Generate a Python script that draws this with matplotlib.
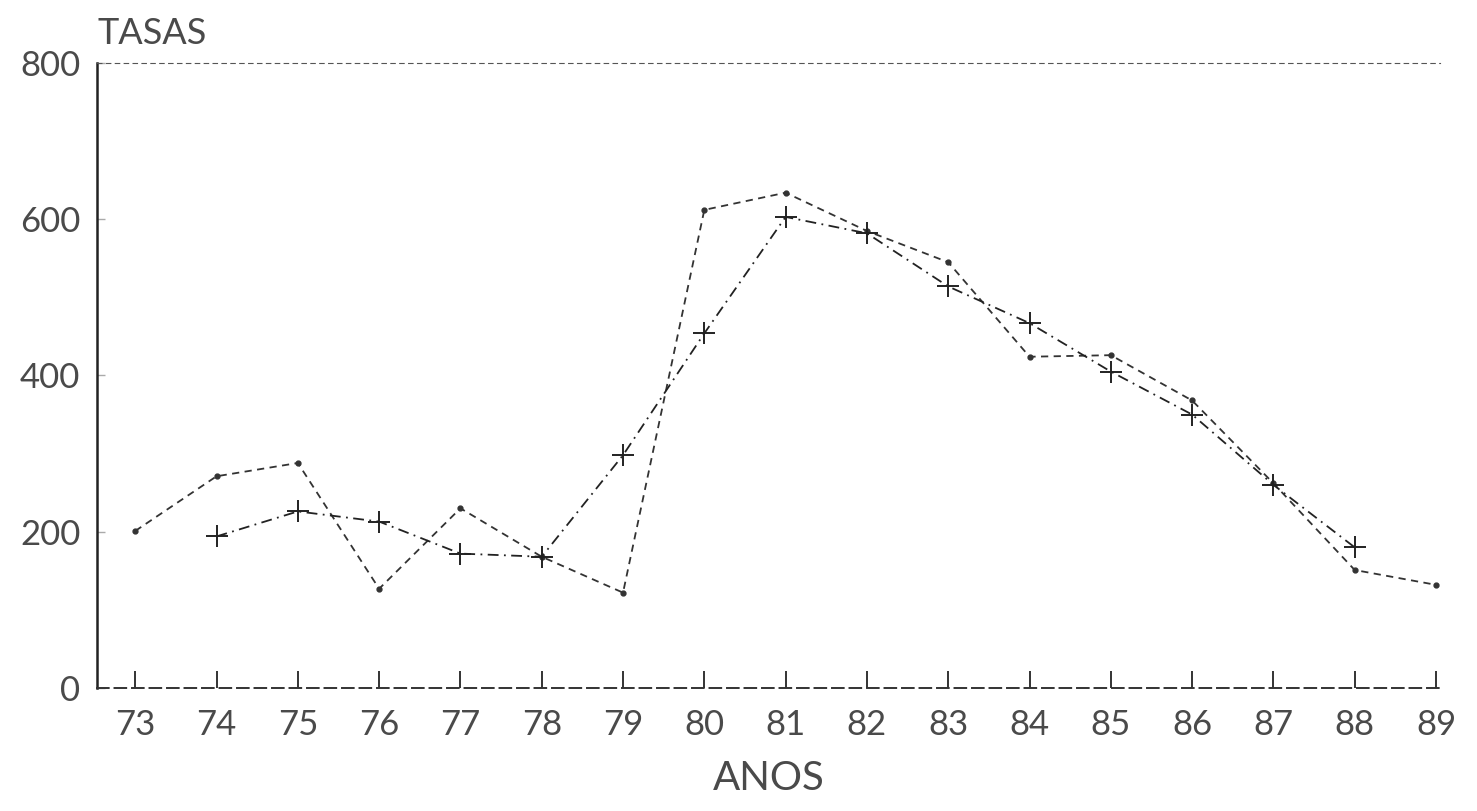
import matplotlib.pyplot as plt
import numpy as np

plt.rcParams['font.family'] = ['Lato', 'DejaVu Sans']

# Datos
anos = np.arange(73, 90)
tasa_puntos = [201, 271, 288, 127, 230, 168, 122, 612, 634, 585, 545, 424, 426, 368, 262, 151, 132]
anos_cruces = np.arange(74, 89)
tasa_cruces = [194, 226, 213, 172, 168, 298, 454, 603, 582, 514, 467, 405, 350, 260, 180]
etiquetas_x = [str(a) for a in anos]

fig = plt.figure(figsize=(14.77, 8.11), dpi=100)
ax = fig.add_axes([0.0657, 0.1517, 0.9093, 0.7706])

ax.plot(anos, tasa_puntos, color='#333333', linestyle=(0, (4, 3)), linewidth=1.3,
        marker='o', markersize=3.5)
ax.plot(anos_cruces, tasa_cruces, color='#222222', linestyle=(0, (6, 3, 1, 3)), linewidth=1.3,
        marker='+', markersize=16, markeredgewidth=1.4)

ax.set_xlim(72.53, 89.05)
ax.set_ylim(0, 800)
ax.set_xticks(anos)
ax.set_xticklabels(etiquetas_x)
ax.set_yticks([0, 200, 400, 600, 800])

ax.spines['right'].set_visible(False)
ax.spines['left'].set_linewidth(1.8)
ax.spines['left'].set_color('#222222')
ax.spines['top'].set_linestyle((0, (4, 4)))
ax.spines['top'].set_color('#555555')
ax.spines['bottom'].set_linestyle((0, (6, 3)))
ax.spines['bottom'].set_color('#333333')
ax.spines['bottom'].set_linewidth(1.4)

ax.tick_params(axis='x', direction='in', length=12, width=1.4, color='#333333',
               labelsize=25, labelcolor='#4a4a4a', pad=15)
ax.tick_params(axis='y', direction='in', length=6, width=1, color='#aaaaaa',
               labelsize=25, labelcolor='#4a4a4a', pad=12)

ax.set_xlabel('ANOS', fontsize=29, color='#4a4a4a', labelpad=14)
fig.text(0.066, 0.938, 'TASAS', fontsize=26, color='#4a4a4a',
         ha='left', va='bottom')

fig.savefig('out.png', dpi=100)
